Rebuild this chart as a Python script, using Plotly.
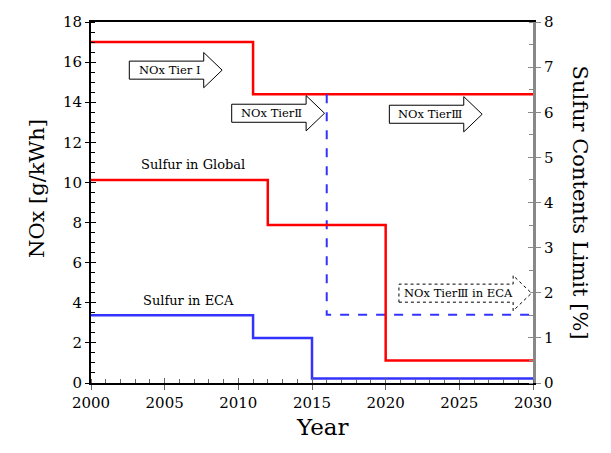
import plotly.graph_objects as go

# ---------------- data ----------------
nox_years = [2000, 2011, 2030]
nox_limit = [17.0, 14.4, 14.4]            # g/kWh (left axis)

global_years = [2000, 2012, 2020, 2030]
global_sulfur = [4.5, 3.5, 0.5, 0.5]      # % (right axis)

eca_years = [2000, 2011, 2015, 2030]
eca_sulfur = [1.5, 1.0, 0.1, 0.1]         # % (right axis)

tier3_eca_years = [2016, 2016, 2030]
tier3_eca_nox = [14.4, 3.4, 3.4]          # g/kWh (left axis)

x_ticks = [2000, 2005, 2010, 2015, 2020, 2025, 2030]
left_ticks = [0, 2, 4, 6, 8, 10, 12, 14, 16, 18]
right_ticks = [0, 1, 2, 3, 4, 5, 6, 7, 8]

arrow_labels = ["NOx Tier I", "NOx Tier\u2161", "NOx Tier\u2162", "NOx Tier\u2162 in ECA"]

FONT = "DejaVu Serif"
RED = "#ff0000"
BLUE = "#3333ff"

fig = go.Figure()
fig.add_trace(go.Scatter(x=nox_years, y=nox_limit, mode="lines", line=dict(color=RED, width=2.5, shape="hv"),
                         showlegend=False, hoverinfo="skip"))
fig.add_trace(go.Scatter(x=tier3_eca_years, y=tier3_eca_nox, mode="lines",
                         line=dict(color=BLUE, width=2, dash="dash"), showlegend=False, hoverinfo="skip"))
fig.add_trace(go.Scatter(x=global_years, y=global_sulfur, yaxis="y2", mode="lines",
                         line=dict(color=RED, width=2.5, shape="hv"), showlegend=False, hoverinfo="skip"))
fig.add_trace(go.Scatter(x=eca_years, y=eca_sulfur, yaxis="y2", mode="lines",
                         line=dict(color=BLUE, width=2.5, shape="hv"), showlegend=False, hoverinfo="skip"))
# dummy traces for overlay tick axes (inside major ticks)
fig.add_trace(go.Scatter(x=[None], y=[None], xaxis="x3", yaxis="y3", showlegend=False, hoverinfo="skip"))
fig.add_trace(go.Scatter(x=[None], y=[None], xaxis="x3", yaxis="y4", showlegend=False, hoverinfo="skip"))

# ---------------- arrow-shaped labels ----------------
RH, HH, HL = 0.45, 0.88, 1.25
arrow_geo = [  # (x start, x tip, y centre, dashed)
    (2002.6, 2008.9, 15.6, False),
    (2009.55, 2015.85, 13.45, False),
    (2020.25, 2026.55, 13.4, False),
    (2020.9, 2029.9, 4.48, True),
]
shapes = []
annotations = []
for (x0, xt, yc, dashed), label in zip(arrow_geo, arrow_labels):
    xb = xt - HL
    path = (f"M {x0},{yc-RH} L {xb},{yc-RH} L {xb},{yc-HH} L {xt},{yc} L {xb},{yc+HH} "
            f"L {xb},{yc+RH} L {x0},{yc+RH} Z")
    shapes.append(dict(type="path", path=path, xref="x", yref="y", fillcolor="white",
                       line=dict(color="black", width=1, dash="dot" if dashed else "solid")))
    annotations.append(dict(x=(x0 + xb) / 2 + 0.2, y=yc, xref="x", yref="y", text=label, showarrow=False,
                            font=dict(family=FONT, size=11.5, color="black")))

annotations += [
    dict(x=2006.9, y=10.9, xref="x", yref="y", text="Sulfur in Global", showarrow=False,
         font=dict(family=FONT, size=13, color="black")),
    dict(x=2006.65, y=4.1, xref="x", yref="y", text="Sulfur in ECA", showarrow=False,
         font=dict(family=FONT, size=13, color="black")),
    dict(x=0.523, y=-0.163, xref="paper", yref="paper", text="Year", showarrow=False,
         font=dict(family=FONT, size=23, color="black")),
    dict(x=-0.154, y=0.54, xref="paper", yref="paper", text="NOx [g/kWh]", showarrow=False, textangle=-90,
         font=dict(family=FONT, size=21, color="black")),
    dict(x=1.14, y=0.5, xref="paper", yref="paper", text="Sulfur Contents Limit [%]", showarrow=False,
         textangle=90, font=dict(family=FONT, size=21, color="black")),
]

tickfont = dict(family=FONT, size=15, color="black")
fig.update_layout(
    width=611, height=453,
    margin=dict(l=91, r=78, t=22, b=70),
    plot_bgcolor="white", paper_bgcolor="white",
    shapes=shapes, annotations=annotations,
    xaxis=dict(range=[2000, 2030], tickvals=x_ticks, ticks="outside", ticklen=5, tickcolor="#666",
               tickfont=tickfont, showgrid=False, zeroline=False, showline=True, linecolor="black",
               linewidth=2, mirror=True,
               minor=dict(dtick=1, ticks="inside", ticklen=4, tickcolor="#666")),
    yaxis=dict(range=[0, 18], tickvals=left_ticks, ticks="outside", ticklen=4, tickcolor="black",
               tickfont=tickfont, showgrid=False, zeroline=False, showline=True, linecolor="black",
               linewidth=2,
               minor=dict(dtick=0.5, ticks="inside", ticklen=4, tickcolor="black")),
    yaxis2=dict(range=[0, 8], tickvals=right_ticks, overlaying="y", side="right", anchor="x",
                ticks="outside", ticklen=5, tickcolor="#888", tickfont=tickfont, showgrid=False,
                zeroline=False, showline=True, linecolor="#888", linewidth=3,
                minor=dict(dtick=0.5, ticks="inside", ticklen=4, tickcolor="#888")),
    xaxis3=dict(range=[2000, 2030], tickvals=x_ticks, overlaying="x", anchor="y", side="bottom",
                ticks="inside", ticklen=5, tickcolor="#666", showticklabels=False, showgrid=False,
                zeroline=False, showline=False),
    yaxis3=dict(range=[0, 18], tickvals=left_ticks, overlaying="y", anchor="x", side="left",
                ticks="inside", ticklen=5, tickcolor="black", showticklabels=False, showgrid=False,
                zeroline=False, showline=False),
    yaxis4=dict(range=[0, 8], tickvals=right_ticks, overlaying="y", anchor="x", side="right",
                ticks="inside", ticklen=5, tickcolor="#888", showticklabels=False, showgrid=False,
                zeroline=False, showline=False),
)

fig.write_html("out.html")
